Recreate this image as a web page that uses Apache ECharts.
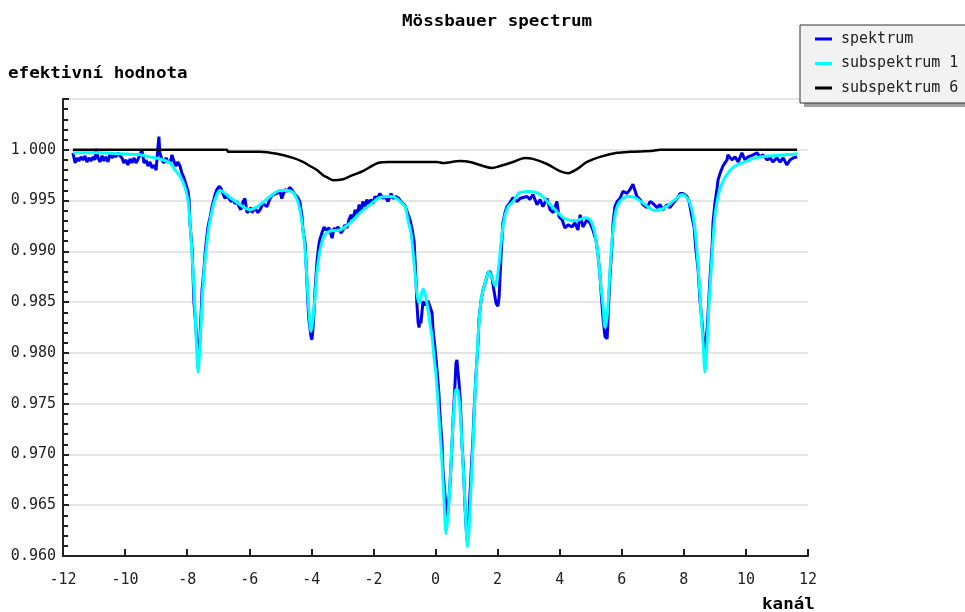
<!DOCTYPE html>
<html><head><meta charset="utf-8">
<script src="https://cdn.jsdelivr.net/npm/echarts@6/dist/echarts.min.js"></script>
<style>html,body{margin:0;padding:0;background:#fff}#c{width:965px;height:612px}</style>
</head><body><div id="c"></div>
<script>
const titleText = 'Mössbauer spectrum';
const yAxisName = 'efektivní hodnota';
const xAxisName = 'kanál';
const seriesNames = ['spektrum', 'subspektrum 1', 'subspektrum 6'];
const xTickValues = [-12, -10, -8, -6, -4, -2, 0, 2, 4, 6, 8, 10, 12];
const yTickValues = [0.960, 0.965, 0.970, 0.975, 0.980, 0.985, 0.990, 0.995, 1.000, 1.005];

const spektrum = [
[-11.68,0.9997],[-11.61,0.9987],[-11.55,0.9992],[-11.49,0.9989],[-11.42,0.9993],[-11.36,0.9990],[-11.29,0.9994],[-11.23,0.9988],[-11.16,0.9992],[-11.10,0.9989],[-11.03,0.9993],[-10.97,0.9990],[-10.94,1.0001],[-10.87,0.9992],[-10.81,0.9988],[-10.74,0.9994],[-10.68,0.9989],[-10.62,0.9993],[-10.55,0.9988],[-10.49,0.9996],[-10.42,0.9992],[-10.36,0.9995],[-10.29,0.9993],[-10.23,0.9997],[-10.16,0.9994],[-10.10,0.9992],[-10.04,0.9987],[-9.97,0.9990],[-9.91,0.9985],[-9.84,0.9991],[-9.78,0.9987],[-9.71,0.9992],[-9.65,0.9987],[-9.58,0.9991],[-9.52,0.9995],[-9.46,1.0000],[-9.39,0.9987],[-9.33,0.9990],[-9.26,0.9984],[-9.20,0.9988],[-9.13,0.9982],[-9.07,0.9985],[-9.00,0.9980],[-8.94,1.0003],[-8.91,1.0013],[-8.88,0.9997],[-8.81,0.9990],[-8.75,0.9987],[-8.68,0.9992],[-8.62,0.9988],[-8.55,0.9987],[-8.49,0.9995],[-8.42,0.9988],[-8.36,0.9984],[-8.30,0.9988],[-8.23,0.9984],[-8.17,0.9977],[-8.10,0.9972],[-8.04,0.9966],[-7.97,0.9959],[-7.94,0.9951],[-7.91,0.9928],[-7.84,0.9901],[-7.81,0.9875],[-7.78,0.9849],[-7.72,0.9826],[-7.68,0.9806],[-7.65,0.9801],[-7.59,0.9813],[-7.55,0.9839],[-7.52,0.9862],[-7.46,0.9882],[-7.43,0.9895],[-7.39,0.9908],[-7.33,0.9924],[-7.26,0.9934],[-7.20,0.9944],[-7.14,0.9951],[-7.10,0.9956],[-7.04,0.9961],[-6.97,0.9964],[-6.91,0.9962],[-6.85,0.9957],[-6.78,0.9952],[-6.72,0.9956],[-6.65,0.9952],[-6.59,0.9949],[-6.52,0.9951],[-6.46,0.9947],[-6.39,0.9949],[-6.33,0.9944],[-6.27,0.9941],[-6.20,0.9949],[-6.14,0.9952],[-6.07,0.9938],[-6.01,0.9939],[-5.94,0.9943],[-5.91,0.9938],[-5.82,0.9943],[-5.72,0.9938],[-5.65,0.9941],[-5.56,0.9947],[-5.43,0.9944],[-5.33,0.9952],[-5.24,0.9956],[-5.11,0.9957],[-5.01,0.9959],[-4.95,0.9952],[-4.85,0.9961],[-4.78,0.9959],[-4.69,0.9963],[-4.59,0.9959],[-4.53,0.9956],[-4.46,0.9954],[-4.37,0.9949],[-4.30,0.9934],[-4.27,0.9921],[-4.20,0.9908],[-4.17,0.9889],[-4.14,0.9869],[-4.11,0.9849],[-4.08,0.9833],[-4.04,0.9823],[-4.01,0.9816],[-3.98,0.9813],[-3.95,0.9823],[-3.91,0.9842],[-3.88,0.9862],[-3.85,0.9875],[-3.82,0.9889],[-3.79,0.9898],[-3.75,0.9908],[-3.72,0.9912],[-3.66,0.9918],[-3.59,0.9924],[-3.53,0.9921],[-3.43,0.9923],[-3.33,0.9913],[-3.27,0.9923],[-3.21,0.9921],[-3.14,0.9924],[-3.04,0.9918],[-2.98,0.9921],[-2.92,0.9926],[-2.85,0.9923],[-2.79,0.9931],[-2.72,0.9936],[-2.66,0.9931],[-2.59,0.9941],[-2.53,0.9934],[-2.46,0.9946],[-2.40,0.9939],[-2.34,0.9949],[-2.27,0.9944],[-2.21,0.9951],[-2.14,0.9946],[-2.08,0.9951],[-2.01,0.9947],[-1.95,0.9954],[-1.88,0.9952],[-1.79,0.9957],[-1.69,0.9952],[-1.63,0.9954],[-1.53,0.9949],[-1.43,0.9957],[-1.37,0.9952],[-1.27,0.9954],[-1.18,0.9952],[-1.11,0.9949],[-1.05,0.9948],[-0.98,0.9945],[-0.89,0.9937],[-0.82,0.9931],[-0.76,0.9923],[-0.69,0.9910],[-0.66,0.9892],[-0.63,0.9872],[-0.60,0.9849],[-0.56,0.9830],[-0.53,0.9825],[-0.50,0.9833],[-0.47,0.9829],[-0.43,0.9842],[-0.40,0.9851],[-0.37,0.9847],[-0.31,0.9849],[-0.24,0.9851],[-0.18,0.9846],[-0.11,0.9839],[-0.08,0.9823],[-0.02,0.9806],[0.05,0.9783],[0.11,0.9760],[0.14,0.9741],[0.21,0.9711],[0.24,0.9685],[0.31,0.9658],[0.37,0.9639],[0.40,0.9642],[0.47,0.9672],[0.53,0.9708],[0.56,0.9731],[0.63,0.9770],[0.66,0.9790],[0.69,0.9793],[0.72,0.9783],[0.76,0.9770],[0.79,0.9757],[0.82,0.9737],[0.85,0.9711],[0.89,0.9692],[0.92,0.9672],[0.95,0.9649],[1.01,0.9616],[1.08,0.9642],[1.14,0.9678],[1.21,0.9718],[1.24,0.9741],[1.30,0.9777],[1.37,0.9810],[1.40,0.9833],[1.47,0.9852],[1.53,0.9862],[1.63,0.9872],[1.69,0.9879],[1.76,0.9880],[1.82,0.9874],[1.88,0.9862],[1.95,0.9849],[2.01,0.9846],[2.05,0.9855],[2.08,0.9875],[2.11,0.9895],[2.14,0.9911],[2.17,0.9928],[2.24,0.9938],[2.30,0.9944],[2.40,0.9948],[2.50,0.9953],[2.63,0.9949],[2.72,0.9952],[2.82,0.9953],[2.95,0.9954],[3.04,0.9951],[3.14,0.9956],[3.27,0.9946],[3.37,0.9951],[3.46,0.9944],[3.59,0.9952],[3.69,0.9941],[3.79,0.9938],[3.91,0.9949],[3.98,0.9934],[4.08,0.9931],[4.17,0.9923],[4.27,0.9926],[4.40,0.9924],[4.49,0.9928],[4.59,0.9921],[4.66,0.9936],[4.75,0.9924],[4.88,0.9931],[4.98,0.9928],[5.07,0.9921],[5.17,0.9911],[5.24,0.9895],[5.30,0.9875],[5.36,0.9849],[5.40,0.9833],[5.46,0.9816],[5.53,0.9814],[5.56,0.9836],[5.62,0.9875],[5.69,0.9908],[5.72,0.9928],[5.78,0.9944],[5.85,0.9949],[5.94,0.9952],[6.04,0.9959],[6.17,0.9957],[6.27,0.9961],[6.36,0.9966],[6.49,0.9954],[6.59,0.9951],[6.68,0.9946],[6.81,0.9943],[6.91,0.9949],[7.01,0.9947],[7.14,0.9943],[7.23,0.9946],[7.33,0.9941],[7.46,0.9946],[7.55,0.9943],[7.65,0.9947],[7.78,0.9952],[7.88,0.9957],[7.97,0.9957],[8.10,0.9954],[8.17,0.9949],[8.26,0.9934],[8.33,0.9924],[8.39,0.9901],[8.46,0.9882],[8.52,0.9852],[8.59,0.9829],[8.62,0.9816],[8.68,0.9803],[8.75,0.9823],[8.78,0.9839],[8.84,0.9872],[8.91,0.9905],[8.94,0.9928],[9.00,0.9947],[9.07,0.9962],[9.10,0.9970],[9.17,0.9977],[9.26,0.9984],[9.39,0.9990],[9.42,0.9995],[9.55,0.9990],[9.65,0.9993],[9.75,0.9988],[9.87,0.9997],[9.97,0.9990],[10.07,0.9993],[10.23,0.9995],[10.36,0.9997],[10.45,0.9993],[10.55,0.9995],[10.68,0.9990],[10.78,0.9992],[10.87,0.9988],[11.00,0.9992],[11.10,0.9988],[11.20,0.9992],[11.32,0.9985],[11.42,0.9990],[11.52,0.9992],[11.65,0.9993]
];

const subspektrum1 = [
[-11.68,0.9997],[-10.81,0.9997],[-10.16,0.9996],[-9.52,0.9995],[-9.20,0.9993],[-8.88,0.9991],[-8.55,0.9987],[-8.39,0.9980],[-8.23,0.9974],[-8.07,0.9963],[-7.97,0.9949],[-7.91,0.9928],[-7.84,0.9895],[-7.78,0.9862],[-7.72,0.9823],[-7.65,0.9781],[-7.59,0.9806],[-7.52,0.9849],[-7.46,0.9879],[-7.39,0.9901],[-7.30,0.9924],[-7.17,0.9944],[-7.04,0.9956],[-6.94,0.9960],[-6.62,0.9953],[-6.30,0.9946],[-5.98,0.9941],[-5.65,0.9946],[-5.33,0.9954],[-5.01,0.9960],[-4.78,0.9960],[-4.59,0.9958],[-4.46,0.9951],[-4.37,0.9941],[-4.27,0.9921],[-4.20,0.9901],[-4.14,0.9872],[-4.08,0.9842],[-4.01,0.9821],[-3.95,0.9833],[-3.88,0.9855],[-3.82,0.9879],[-3.72,0.9901],[-3.59,0.9915],[-3.40,0.9920],[-3.08,0.9921],[-2.75,0.9928],[-2.43,0.9938],[-2.11,0.9946],[-1.79,0.9953],[-1.47,0.9954],[-1.30,0.9953],[-1.14,0.9949],[-0.98,0.9944],[-0.89,0.9931],[-0.79,0.9918],[-0.72,0.9898],[-0.66,0.9879],[-0.60,0.9859],[-0.53,0.9849],[-0.47,0.9855],[-0.40,0.9863],[-0.31,0.9855],[-0.24,0.9842],[-0.18,0.9829],[-0.11,0.9816],[-0.05,0.9796],[0.02,0.9777],[0.08,0.9751],[0.14,0.9724],[0.21,0.9692],[0.27,0.9658],[0.34,0.9622],[0.40,0.9639],[0.47,0.9672],[0.53,0.9711],[0.60,0.9747],[0.66,0.9764],[0.72,0.9763],[0.79,0.9744],[0.85,0.9711],[0.92,0.9672],[0.98,0.9632],[1.03,0.9609],[1.08,0.9626],[1.14,0.9665],[1.21,0.9711],[1.27,0.9757],[1.34,0.9796],[1.40,0.9829],[1.47,0.9852],[1.56,0.9865],[1.66,0.9875],[1.72,0.9880],[1.82,0.9874],[1.92,0.9866],[1.98,0.9872],[2.05,0.9889],[2.11,0.9908],[2.21,0.9931],[2.34,0.9944],[2.50,0.9949],[2.72,0.9958],[3.04,0.9959],[3.37,0.9956],[3.69,0.9946],[4.01,0.9936],[4.17,0.9932],[4.49,0.9930],[4.82,0.9933],[4.98,0.9931],[5.11,0.9921],[5.20,0.9905],[5.27,0.9885],[5.33,0.9865],[5.40,0.9846],[5.46,0.9825],[5.53,0.9836],[5.59,0.9865],[5.65,0.9895],[5.72,0.9921],[5.82,0.9941],[5.94,0.9949],[6.17,0.9954],[6.43,0.9953],[6.75,0.9946],[7.07,0.9940],[7.39,0.9943],[7.72,0.9951],[7.94,0.9956],[8.14,0.9951],[8.26,0.9941],[8.36,0.9921],[8.42,0.9901],[8.49,0.9872],[8.55,0.9842],[8.62,0.9810],[8.68,0.9781],[8.75,0.9810],[8.81,0.9849],[8.88,0.9882],[8.94,0.9911],[9.00,0.9934],[9.10,0.9954],[9.23,0.9967],[9.42,0.9977],[9.65,0.9984],[9.97,0.9988],[10.29,0.9992],[10.78,0.9994],[11.26,0.9995],[11.65,0.9996]
];

const subspektrum6 = [
[-11.68,1.0000],[-6.72,1.0000],[-6.68,0.9998],[-5.65,0.9998],[-5.11,0.9996],[-4.59,0.9992],[-4.27,0.9988],[-4.04,0.9984],[-3.82,0.9980],[-3.62,0.9975],[-3.50,0.9973],[-3.30,0.9970],[-2.98,0.9971],[-2.75,0.9974],[-2.34,0.9979],[-1.85,0.9987],[-1.47,0.9988],[-0.82,0.9988],[-0.50,0.9988],[0.05,0.9988],[0.24,0.9987],[0.79,0.9989],[1.11,0.9988],[1.53,0.9984],[1.82,0.9982],[2.08,0.9984],[2.50,0.9988],[2.88,0.9992],[3.14,0.9991],[3.59,0.9986],[4.01,0.9979],[4.27,0.9977],[4.56,0.9981],[4.88,0.9988],[5.30,0.9993],[5.85,0.9997],[6.27,0.9998],[7.01,0.9999],[7.23,1.0000],[11.65,1.0000]
];

const FONT = '"DejaVu Sans Mono", "Liberation Mono", monospace';
const chart = echarts.init(document.getElementById('c'), null, {renderer: 'canvas'});
const axisColor = '#222';
chart.setOption({
  animation: false,
  backgroundColor: '#ffffff',
  graphic: [
    {type: 'text', x: 402, y: 22, scaleX: 1.17,
     style: {text: titleText, font: 'bold 15px ' + FONT, fill: '#000', align: 'left', verticalAlign: 'middle'}},
    {type: 'text', x: 8, y: 74, scaleX: 1.17,
     style: {text: yAxisName, font: 'bold 15px ' + FONT, fill: '#000', align: 'left', verticalAlign: 'middle'}},
    {type: 'text', x: 762, y: 605, scaleX: 1.17,
     style: {text: xAxisName, font: 'bold 15px ' + FONT, fill: '#000', align: 'left', verticalAlign: 'middle'}},
    {type: 'rect', z: 0, shape: {x: 804, y: 29, width: 200, height: 78},
     style: {fill: '#a0a0a0'}}
  ],
  legend: {
    data: seriesNames,
    orient: 'vertical', left: 800, top: 25, z: 10,
    padding: [6, 12, 7, 15], itemGap: 8.5,
    itemWidth: 17, itemHeight: 3, icon: 'rect',
    backgroundColor: '#f2f2f2', borderColor: '#333', borderWidth: 1, borderRadius: 0,
    selectedMode: false,
    textStyle: {fontFamily: FONT, fontSize: 15, color: '#222', lineHeight: 16, padding: [0, 0, 0, 4]}
  },
  grid: {left: 63, right: 157, top: 99, bottom: 56, containLabel: false},
  xAxis: {
    type: 'value',
    min: xTickValues[0], max: xTickValues[xTickValues.length - 1],
    interval: xTickValues[1] - xTickValues[0],
    axisLine: {show: true, onZero: false, lineStyle: {color: axisColor, width: 2}},
    axisTick: {show: true, inside: true, length: 7, lineStyle: {color: axisColor, width: 2}},
    axisLabel: {margin: 17, fontFamily: FONT, fontSize: 15, color: '#222'},
    splitLine: {show: false}
  },
  yAxis: {
    type: 'value',
    min: yTickValues[0], max: yTickValues[yTickValues.length - 1],
    interval: 0.005,
    axisLine: {show: true, onZero: false, lineStyle: {color: axisColor, width: 2}},
    axisTick: {show: true, inside: true, length: 6, lineStyle: {color: axisColor, width: 2}},
    minorTick: {show: true, splitNumber: 5, length: 5, lineStyle: {color: axisColor, width: 2}},
    axisLabel: {margin: 7, fontFamily: FONT, fontSize: 15, color: '#222', showMaxLabel: false,
      formatter: v => v.toFixed(3)},
    splitLine: {show: true, lineStyle: {color: '#dcdcdc', width: 1.5}}
  },
  series: [
    {name: seriesNames[0], type: 'line', data: spektrum, symbol: 'none', color: '#0000ee',
     lineStyle: {width: 3, color: '#0000ee'}, z: 2},
    {name: seriesNames[1], type: 'line', data: subspektrum1, symbol: 'none', smooth: 0.3, color: '#00ffff',
     lineStyle: {width: 3, color: '#00ffff'}, z: 3},
    {name: seriesNames[2], type: 'line', data: subspektrum6, symbol: 'none', smooth: 0.3, color: '#000000',
     lineStyle: {width: 2.5, color: '#000000'}, z: 4}
  ]
});
</script>
</body></html>
